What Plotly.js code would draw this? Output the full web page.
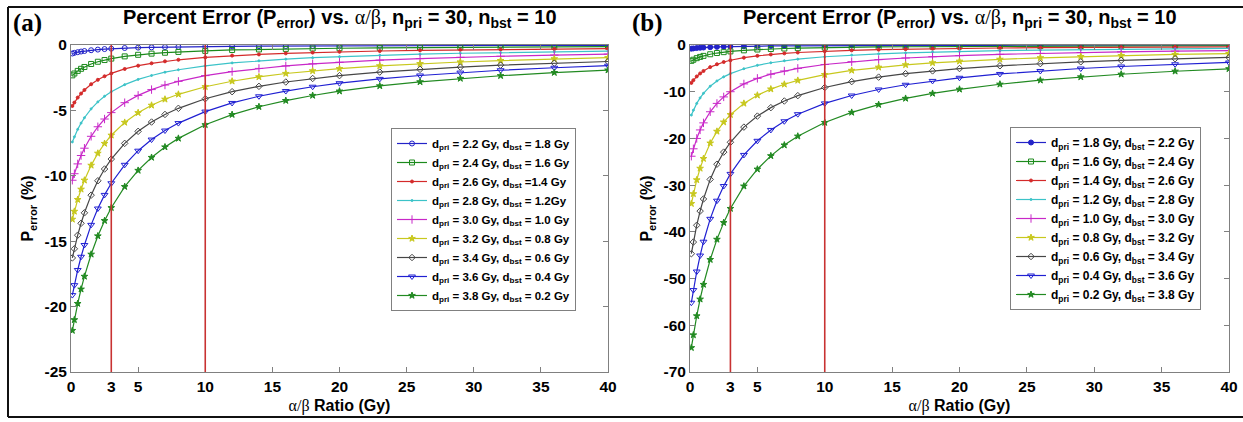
<!DOCTYPE html>
<html>
<head>
<meta charset="utf-8">
<script src="https://cdn.plot.ly/plotly-3.0.1.min.js"></script>
<style>
  html, body { margin: 0; padding: 0; background: #ffffff; }
  #chart { width: 1243px; height: 422px; }
</style>
</head>
<body>
<div id="chart"></div>
<script>
// ---------- DATA ----------
const abRatio = [0.1, 0.25, 0.5, 0.75, 1, 1.5, 2, 2.5, 3, 4, 5, 6, 7, 8, 10, 12, 14, 16, 18, 20, 23, 26, 29, 32, 36, 40];
const xTickVals = [0, 3, 5, 10, 15, 20, 25, 30, 35, 40];
const refLines = [3, 10];
const yTicksA = [0, -5, -10, -15, -20, -25];
const yTicksB = [0, -10, -20, -30, -40, -50, -60, -70];

const legendA = [
  "d<sub>pri</sub> = 2.2 Gy, d<sub>bst</sub> = 1.8 Gy",
  "d<sub>pri</sub> = 2.4 Gy, d<sub>bst</sub> = 1.6 Gy",
  "d<sub>pri</sub> = 2.6 Gy, d<sub>bst</sub> =1.4 Gy",
  "d<sub>pri</sub> = 2.8 Gy, d<sub>bst</sub> = 1.2Gy",
  "d<sub>pri</sub> = 3.0 Gy, d<sub>bst</sub> = 1.0 Gy",
  "d<sub>pri</sub> = 3.2 Gy, d<sub>bst</sub> = 0.8 Gy",
  "d<sub>pri</sub> = 3.4 Gy, d<sub>bst</sub> = 0.6 Gy",
  "d<sub>pri</sub> = 3.6 Gy, d<sub>bst</sub> = 0.4 Gy",
  "d<sub>pri</sub> = 3.8 Gy, d<sub>bst</sub> = 0.2 Gy"
];
const legendB = [
  "d<sub>pri</sub> = 1.8 Gy, d<sub>bst</sub> = 2.2 Gy",
  "d<sub>pri</sub> = 1.6 Gy, d<sub>bst</sub> = 2.4 Gy",
  "d<sub>pri</sub> = 1.4 Gy, d<sub>bst</sub> = 2.6 Gy",
  "d<sub>pri</sub> = 1.2 Gy, d<sub>bst</sub> = 2.8 Gy",
  "d<sub>pri</sub> = 1.0 Gy, d<sub>bst</sub> = 3.0 Gy",
  "d<sub>pri</sub> = 0.8 Gy, d<sub>bst</sub> = 3.2 Gy",
  "d<sub>pri</sub> = 0.6 Gy, d<sub>bst</sub> = 3.4 Gy",
  "d<sub>pri</sub> = 0.4 Gy, d<sub>bst</sub> = 3.6 Gy",
  "d<sub>pri</sub> = 0.2 Gy, d<sub>bst</sub> = 3.8 Gy"
];

// Panel (a) percent error series
const errA1 = [-0.65,-0.60,-0.55,-0.50,-0.46,-0.40,-0.35,-0.31,-0.28,-0.23,-0.20,-0.18,-0.16,-0.14,-0.12,-0.10,-0.09,-0.08,-0.07,-0.06,-0.06,-0.05,-0.05,-0.04,-0.04,-0.03];
const errA2 = [-2.32,-2.18,-1.98,-1.82,-1.68,-1.45,-1.28,-1.15,-1.04,-0.87,-0.75,-0.66,-0.59,-0.53,-0.45,-0.38,-0.34,-0.30,-0.27,-0.25,-0.22,-0.19,-0.18,-0.16,-0.14,-0.13];
const errA3 = [-4.66,-4.40,-4.02,-3.71,-3.44,-3.00,-2.66,-2.39,-2.17,-1.83,-1.58,-1.40,-1.25,-1.13,-0.95,-0.81,-0.72,-0.64,-0.58,-0.52,-0.46,-0.41,-0.37,-0.34,-0.31,-0.28];
const errA4 = [-7.41,-7.02,-6.45,-5.97,-5.56,-4.88,-4.35,-3.92,-3.57,-3.03,-2.63,-2.33,-2.08,-1.89,-1.59,-1.37,-1.21,-1.08,-0.97,-0.89,-0.78,-0.70,-0.63,-0.58,-0.52,-0.47];
const errA5 = [-10.34,-9.84,-9.09,-8.45,-7.89,-6.98,-6.25,-5.66,-5.17,-4.41,-3.85,-3.41,-3.06,-2.78,-2.34,-2.03,-1.79,-1.60,-1.44,-1.32,-1.16,-1.04,-0.94,-0.86,-0.77,-0.70];
const errA6 = [-13.33,-12.72,-11.82,-11.03,-10.34,-9.20,-8.28,-7.53,-6.90,-5.92,-5.18,-4.61,-4.15,-3.77,-3.19,-2.77,-2.44,-2.18,-1.98,-1.81,-1.60,-1.43,-1.30,-1.19,-1.06,-0.97];
const errA7 = [-16.28,-15.58,-14.54,-13.63,-12.83,-11.48,-10.38,-9.48,-8.72,-7.52,-6.60,-5.89,-5.31,-4.84,-4.11,-3.57,-3.16,-2.83,-2.56,-2.34,-2.07,-1.86,-1.69,-1.54,-1.39,-1.26];
const errA8 = [-19.12,-18.36,-17.20,-16.19,-15.29,-13.75,-12.50,-11.46,-10.57,-9.16,-8.08,-7.23,-6.54,-5.97,-5.09,-4.43,-3.92,-3.52,-3.19,-2.92,-2.59,-2.33,-2.11,-1.93,-1.74,-1.58];
const errA9 = [-21.83,-21.01,-19.77,-18.67,-17.69,-16.00,-14.60,-13.43,-12.44,-10.83,-9.59,-8.60,-7.80,-7.14,-6.10,-5.32,-4.72,-4.25,-3.86,-3.53,-3.13,-2.82,-2.56,-2.35,-2.11,-1.92];

// Panel (b) percent error series
const errB1 = [-0.78,-0.73,-0.65,-0.59,-0.54,-0.46,-0.40,-0.36,-0.32,-0.27,-0.23,-0.20,-0.18,-0.16,-0.13,-0.11,-0.10,-0.09,-0.08,-0.07,-0.06,-0.06,-0.05,-0.05,-0.04,-0.04];
const errB2 = [-3.39,-3.15,-2.82,-2.55,-2.33,-1.98,-1.72,-1.53,-1.37,-1.14,-0.97,-0.85,-0.75,-0.68,-0.56,-0.48,-0.42,-0.37,-0.34,-0.30,-0.27,-0.24,-0.22,-0.20,-0.18,-0.16];
const errB3 = [-8.11,-7.53,-6.73,-6.09,-5.56,-4.73,-4.12,-3.64,-3.27,-2.71,-2.32,-2.02,-1.79,-1.61,-1.34,-1.15,-1.00,-0.89,-0.80,-0.73,-0.64,-0.57,-0.51,-0.47,-0.42,-0.38];
const errB4 = [-15.00,-13.95,-12.50,-11.32,-10.34,-8.82,-7.69,-6.82,-6.12,-5.08,-4.35,-3.80,-3.37,-3.03,-2.52,-2.16,-1.89,-1.68,-1.51,-1.37,-1.21,-1.08,-0.97,-0.89,-0.79,-0.72];
const errB5 = [-23.81,-22.22,-20.00,-18.18,-16.67,-14.29,-12.50,-11.11,-10.00,-8.33,-7.14,-6.25,-5.56,-5.00,-4.17,-3.57,-3.13,-2.78,-2.50,-2.27,-2.00,-1.79,-1.61,-1.47,-1.32,-1.19];
const errB6 = [-33.96,-31.86,-28.88,-26.41,-24.32,-21.01,-18.49,-16.51,-14.92,-12.50,-10.76,-9.44,-8.41,-7.58,-6.34,-5.44,-4.77,-4.25,-3.82,-3.48,-3.07,-2.74,-2.48,-2.26,-2.02,-1.83];
const errB7 = [-44.68,-42.18,-38.58,-35.55,-32.96,-28.77,-25.52,-22.93,-20.82,-17.58,-15.22,-13.41,-11.99,-10.84,-9.10,-7.84,-6.88,-6.14,-5.54,-5.04,-4.45,-3.98,-3.60,-3.28,-2.94,-2.67];
const errB8 = [-55.17,-52.46,-48.49,-45.07,-42.11,-37.21,-33.33,-30.19,-27.59,-23.53,-20.51,-18.18,-16.33,-14.81,-12.50,-10.81,-9.52,-8.51,-7.69,-7.02,-6.20,-5.56,-5.03,-4.60,-4.12,-3.74];
const errB9 = [-64.80,-62.07,-58.00,-54.42,-51.27,-45.94,-41.61,-38.03,-35.01,-30.22,-26.59,-23.73,-21.43,-19.53,-16.60,-14.43,-12.76,-11.44,-10.37,-9.48,-8.40,-7.54,-6.84,-6.26,-5.62,-5.10];

// ---------- STYLES ----------
const seriesA = [errA1, errA2, errA3, errA4, errA5, errA6, errA7, errA8, errA9];
const seriesB = [errB1, errB2, errB3, errB4, errB5, errB6, errB7, errB8, errB9];
const colors = ['#2323c8', '#1c8a1c', '#d42a2a', '#3cc3c8', '#c828c8', '#c8c81e', '#464646', '#2020d2', '#228a22'];
const symbolsA = ['circle-open', 'square-open', 'circle', 'circle', 'cross-thin-open', 'star', 'diamond-open', 'triangle-down-open', 'star'];
const symbolsB = ['circle', 'square-open', 'circle', 'circle', 'cross-thin-open', 'star', 'diamond-open', 'triangle-down-open', 'star'];
const sizes = [5, 5, 3, 2, 6, 5, 5, 6, 5];

const traces = [];
seriesA.forEach((ys, i) => {
  traces.push({
    x: abRatio, y: ys, type: 'scatter', mode: 'lines+markers',
    name: legendA[i], xaxis: 'x', yaxis: 'y', legend: 'legend',
    line: { color: colors[i], width: 1.2 },
    marker: { color: colors[i], symbol: symbolsA[i], size: sizes[i], line: { color: colors[i], width: 1 } }
  });
});
seriesB.forEach((ys, i) => {
  traces.push({
    x: abRatio, y: ys, type: 'scatter', mode: 'lines+markers',
    name: legendB[i], xaxis: 'x2', yaxis: 'y2', legend: 'legend2',
    line: { color: colors[i], width: 1.2 },
    marker: { color: colors[i], symbol: symbolsB[i], size: sizes[i], line: { color: colors[i], width: 1 } }
  });
});

const W = 1243, H = 422;
const px = v => v / W;
const py = v => 1 - v / H;

const tickFont = { family: 'Liberation Sans, Arial, sans-serif', size: 15.5, color: '#000', weight: 'bold' };
const axisTitleFont = { family: 'Liberation Sans, Arial, sans-serif', size: 16, color: '#000', weight: 'bold' };
const xTitle = '<span style="font-family:Liberation Serif, Times New Roman, serif;font-weight:normal">α/β</span> Ratio (Gy)';
const yTitle = 'P<sub>error</sub> (%)';
const mainTitle = 'Percent Error (P<sub>error</sub>) vs. <span style="font-family:Liberation Serif, Times New Roman, serif;font-weight:normal">α/β</span>, n<sub>pri</sub> = 30, n<sub>bst</sub> = 10';

function xAxis(domain, anchor) {
  return {
    domain: domain, anchor: anchor, range: [0, 40],
    tickmode: 'array', tickvals: xTickVals, ticktext: xTickVals.map(String),
    ticks: 'inside', ticklen: 5, tickcolor: '#808080',
    showline: true, linecolor: '#808080', linewidth: 1, mirror: 'ticks',
    showgrid: false, zeroline: false,
    tickfont: tickFont,
    title: { text: xTitle, font: axisTitleFont, standoff: 6 }
  };
}
function yAxis(domain, anchor, range, ticks) {
  return {
    domain: domain, anchor: anchor, range: range,
    tickmode: 'array', tickvals: ticks, ticktext: ticks.map(String),
    ticks: 'inside', ticklen: 5, tickcolor: '#808080',
    showline: true, linecolor: '#808080', linewidth: 1, mirror: 'ticks',
    showgrid: false, zeroline: false,
    tickfont: tickFont,
    title: { text: yTitle, font: axisTitleFont, standoff: 6 }
  };
}

const yDom = [py(372), py(45)];

const shapes = [];
refLines.forEach(v => {
  ['x', 'x2'].forEach((xr, k) => {
    shapes.push({
      type: 'line', xref: xr, yref: (k === 0 ? 'y domain' : 'y2 domain'),
      x0: v, x1: v, y0: 0, y1: 1,
      line: { color: '#c83232', width: 1.6 }
    });
  });
});
// outer figure frame
shapes.push({ type: 'line', xref: 'paper', yref: 'paper', x0: px(8), x1: 1, y0: py(7), y1: py(7), line: { color: '#111', width: 2 } });
shapes.push({ type: 'line', xref: 'paper', yref: 'paper', x0: px(8), x1: 1, y0: py(417), y1: py(417), line: { color: '#111', width: 2 } });
shapes.push({ type: 'line', xref: 'paper', yref: 'paper', x0: px(8), x1: px(8), y0: py(7), y1: py(417), line: { color: '#111', width: 2 } });

const titleFont = { family: 'Liberation Sans, Arial, sans-serif', size: 20, color: '#000', weight: 'bold' };
const panelFont = { family: 'Liberation Serif, Times New Roman, serif', size: 25, color: '#000', weight: 'bold' };

const annotations = [
  { xref: 'paper', yref: 'paper', x: px(340), y: py(19), text: mainTitle, showarrow: false, font: titleFont, xanchor: 'center', yanchor: 'middle' },
  { xref: 'paper', yref: 'paper', x: px(960), y: py(19), text: mainTitle, showarrow: false, font: titleFont, xanchor: 'center', yanchor: 'middle' },
  { xref: 'paper', yref: 'paper', x: px(11), y: py(23), text: '(a)', showarrow: false, font: panelFont, xanchor: 'left', yanchor: 'middle' },
  { xref: 'paper', yref: 'paper', x: px(630), y: py(23), text: '(b)', showarrow: false, font: panelFont, xanchor: 'left', yanchor: 'middle' }
];

const legendFontA = { family: 'Liberation Sans, Arial, sans-serif', size: 11.5, color: '#000', weight: 'bold' };
const legendFontB = { family: 'Liberation Sans, Arial, sans-serif', size: 12, color: '#000', weight: 'bold' };

const layout = {
  width: W, height: H,
  margin: { l: 0, r: 0, t: 0, b: 0 },
  paper_bgcolor: '#ffffff', plot_bgcolor: '#ffffff',
  showlegend: true,
  xaxis: xAxis([px(71), px(608)], 'y'),
  yaxis: yAxis(yDom, 'x', [-25, 0], yTicksA),
  xaxis2: xAxis([px(690), px(1229)], 'y2'),
  yaxis2: yAxis(yDom, 'x2', [-70, 0], yTicksB),
  legend: {
    x: px(391), y: py(128), xanchor: 'left', yanchor: 'top',
    bgcolor: '#ffffff', bordercolor: '#808080', borderwidth: 1,
    font: legendFontA, itemwidth: 30, tracegroupgap: 0
  },
  legend2: {
    x: px(1010), y: py(127), xanchor: 'left', yanchor: 'top',
    bgcolor: '#ffffff', bordercolor: '#808080', borderwidth: 1,
    font: legendFontB, itemwidth: 30, tracegroupgap: 0
  },
  shapes: shapes,
  annotations: annotations
};

Plotly.newPlot('chart', traces, layout, { displayModeBar: false, staticPlot: true });
</script>
</body>
</html>
